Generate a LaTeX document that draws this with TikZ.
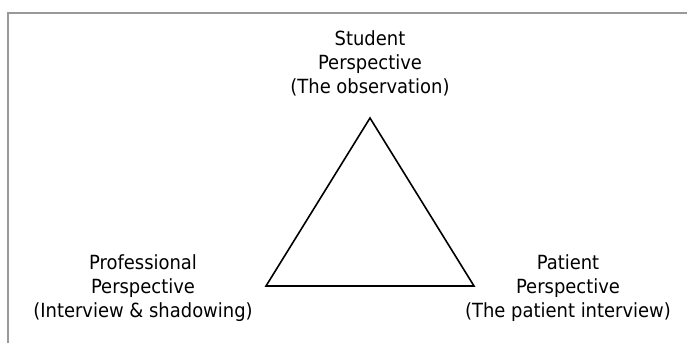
\documentclass[tikz,border=0pt]{standalone}
\usepackage{fontspec}
\setmainfont[FakeStretch=0.92]{DejaVu Sans}
\begin{document}
\begin{tikzpicture}[x=1pt,y=-1pt,
  lbl/.style={align=center,font=\fontsize{19.5}{24}\selectfont,inner sep=0pt},
  frame/.style={draw=black!40,line width=2pt},
  tri/.style={draw=black,line width=1.6pt,line join=miter}]
\useasboundingbox (0,0) rectangle (687,343);
\draw[frame] (8,343) -- (8,13) -- (687,13);
\coordinate (A) at (370,118);
\coordinate (B) at (266,286);
\coordinate (C) at (474,286);
\draw[tri] (A) -- (B) -- (C) -- cycle;
\node[lbl] (s) at (370,63) {Student\\Perspective\\(The observation)};
\node[lbl] (p) at (143,288) {Professional\\Perspective\\(Interview \& shadowing)};
\node[lbl] (q) at (568,288) {Patient\\Perspective\\(The patient interview)};
\end{tikzpicture}
\end{document}
